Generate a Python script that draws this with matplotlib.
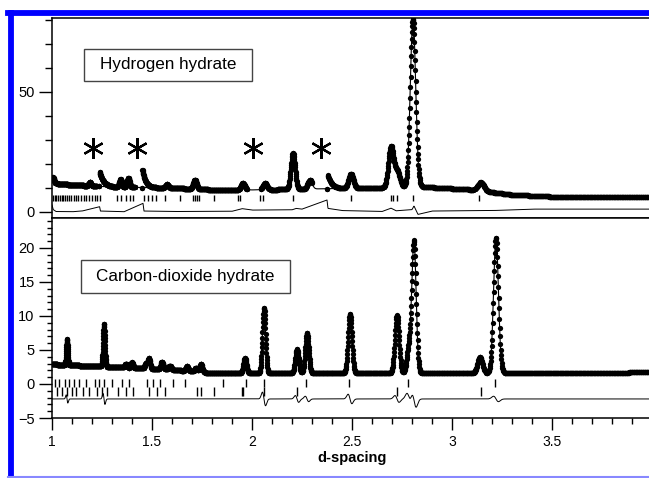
import numpy as np
import matplotlib
matplotlib.use("Agg")
import matplotlib.pyplot as plt
from matplotlib.ticker import MultipleLocator
from matplotlib.lines import Line2D
from matplotlib.patches import Rectangle

plt.rcParams['font.family'] = ['Liberation Sans', 'DejaVu Sans']

# ---- hydrogen hydrate (upper panel) ----
h2_bg_d = [1.0, 1.03, 1.1, 1.3, 1.6, 1.8, 2.0, 2.3, 2.6, 2.85, 3.1, 3.3, 3.5, 4.0]
h2_bg_y = [12.5, 11.8, 11.3, 10.4, 10.0, 9.3, 9.2, 9.6, 10.0, 10.5, 9.3, 7.2, 6.4, 6.2]
h2_peak_d = [1.005, 1.19, 1.343, 1.382, 1.575, 1.715, 1.955, 2.065, 2.205, 2.29,
             2.495, 2.695, 2.727, 2.805, 3.145]
h2_peak_h = [2.0, 1.5, 3.2, 3.8, 1.5, 3.8, 2.8, 2.7, 15.0, 3.7,
             6.0, 17.0, 6.5, 70.0, 3.5]
# artefact edges marked with asterisks (position, jump, decay length)
h2_edge_d = [1.238, 1.452, 2.378]
h2_edge_h = [6.0, 7.5, 6.0]
h2_edge_w = [0.02, 0.016, 0.02]
h2_excluded = [(1.225, 1.236), (1.415, 1.450), (1.975, 2.045), (2.300, 2.376)]
h2_diff_d = [1.0, 1.006, 1.02, 1.1, 1.15, 1.238, 1.242, 1.3, 1.36, 1.455, 1.46, 1.6,
             1.9, 1.95, 2.0, 2.2, 2.22, 2.25, 2.375, 2.38, 2.45, 2.65, 2.695, 2.72,
             2.8, 2.81, 2.83, 2.9, 3.2, 3.4, 4.0]
h2_diff_y = [2.9, 1.0, 0.2, 0.1, 0.4, 2.2, 0.4, 0.3, 0.1, 3.6, 0.4, 0.2,
             0.3, 1.4, 0.8, 0.9, 1.5, 1.2, 5.0, 1.5, 0.6, 0.2, 1.6, 0.5,
             1.0, 2.5, -1.0, 0.4, 0.6, 1.2, 1.2]
h2_ticks = [1.005, 1.015, 1.022, 1.03, 1.04, 1.048, 1.055, 1.065, 1.075, 1.085, 1.095,
            1.11, 1.12, 1.13, 1.145, 1.16, 1.17, 1.185, 1.2, 1.215, 1.225, 1.238,
            1.325, 1.345, 1.37, 1.39, 1.405, 1.46, 1.48, 1.5, 1.52, 1.565, 1.64,
            1.705, 1.715, 1.727, 1.737, 1.81, 1.93, 1.94, 2.04, 2.053, 2.203,
            2.493, 2.693, 2.707, 2.723, 2.803, 3.137]
h2_stars = [1.205, 1.425, 2.005, 2.345]

# ---- carbon-dioxide hydrate (lower panel) ----
co2_bg_d = [1.0, 1.3, 1.6, 1.8, 3.0, 4.0]
co2_bg_y = [2.9, 2.5, 2.1, 1.6, 1.6, 1.7]
co2_peak_d = [1.075, 1.26, 1.37, 1.40, 1.47, 1.485, 1.55, 1.59, 1.675, 1.72, 1.745,
              1.965, 2.06, 2.225, 2.275, 2.49, 2.725, 2.785, 2.81, 3.14, 3.22]
co2_peak_h = [3.8, 6.3, 0.6, 0.8, 0.8, 1.5, 1.1, 0.6, 0.7, 0.6, 1.2,
              2.2, 9.6, 3.5, 5.9, 8.7, 8.5, 3.7, 19.3, 2.4, 19.9]
co2_diff_base = -2.2
co2_blip_d = [1.075, 1.26, 2.06, 2.225, 2.275, 2.49, 2.725, 2.785, 2.81, 3.22]
co2_blip_h = [0.6, 0.8, 1.0, 0.5, 0.4, 0.7, 0.5, 0.8, 1.2, 0.4]
co2_ticks_a = [1.015, 1.037, 1.065, 1.087, 1.11, 1.137, 1.17, 1.215, 1.237, 1.26,
               1.298, 1.348, 1.387, 1.473, 1.507, 1.54, 1.607, 1.665, 1.855, 1.97,
               2.06, 2.27, 2.485, 2.78, 3.215]
co2_ticks_b = [1.027, 1.048, 1.077, 1.098, 1.12, 1.157, 1.187, 1.223, 1.248, 1.277,
               1.332, 1.37, 1.407, 1.487, 1.523, 1.565, 1.725, 1.745, 1.81, 1.95,
               1.955, 2.06, 2.225, 2.725, 3.145]

d = np.exp(np.arange(np.log(1.0), np.log(4.0), 0.0005))


def peaks(pos, hgt, width):
    y = np.zeros_like(d)
    for p, h in zip(pos, hgt):
        y += h * np.exp(-0.5 * ((d - p) / (width * p)) ** 2)
    return y


h2_calc = np.interp(d, h2_bg_d, h2_bg_y) + peaks(h2_peak_d, h2_peak_h, 0.0048)
h2_obs = h2_calc.copy()
for p, h, w in zip(h2_edge_d, h2_edge_h, h2_edge_w):
    m = d >= p
    h2_obs[m] += h * np.exp(-(d[m] - p) / w)
keep = np.ones_like(d, dtype=bool)
for a, b in h2_excluded:
    keep &= ~((d > a) & (d < b))
h2_diff = np.interp(d, h2_diff_d, h2_diff_y)

co2_calc = np.interp(d, co2_bg_d, co2_bg_y) + peaks(co2_peak_d, co2_peak_h, 0.0038)
co2_obs = co2_calc
co2_diff = np.full_like(d, co2_diff_base)
for p, h in zip(co2_blip_d, co2_blip_h):
    s = 0.0038 * p
    co2_diff += -h * 1.65 * (d - p) / s * np.exp(-0.5 * ((d - p) / s) ** 2)

fig = plt.figure(figsize=(6.49, 4.78), dpi=100)
W, H = 649.0, 478.0
ax1 = fig.add_axes([52 / W, 1 - 218 / H, 600 / W, 200 / H])
ax2 = fig.add_axes([52 / W, 1 - 418 / H, 600 / W, 200 / H], sharex=ax1)

# upper panel
ax1.plot(d[keep], h2_obs[keep], 'o', color='black', ms=3.8, mew=0)
ax1.plot(d, h2_calc, color='black', lw=0.8)
ax1.plot(d, h2_diff, color='black', lw=0.7)
ax1.vlines(h2_ticks, 4.6, 7.1, color='black', lw=1.0)
ax1.plot(h2_stars, [26.7] * len(h2_stars), marker=(6, 2, 0), ls='none',
         color='black', ms=15, mew=1.6)
ax1.set_ylim(-2.5, 80.8)
ax1.yaxis.set_major_locator(MultipleLocator(50))
ax1.yaxis.set_minor_locator(MultipleLocator(10))
ax1.tick_params(axis='x', which='both', bottom=False, labelbottom=False)

# lower panel
ax2.plot(d, co2_obs, 'o', color='black', ms=3.8, mew=0)
ax2.plot(d, co2_calc, color='black', lw=0.8)
ax2.plot(d, co2_diff, color='black', lw=0.7)
ax2.vlines(co2_ticks_a, -0.5, 0.8, color='black', lw=1.0)
ax2.vlines(co2_ticks_b, -1.7, -0.4, color='black', lw=1.0)
ax2.set_ylim(-5, 24.4)
ax2.yaxis.set_major_locator(MultipleLocator(5))
ax2.yaxis.set_minor_locator(MultipleLocator(1))
ax2.set_xlim(1, 4)
ax2.xaxis.set_major_locator(MultipleLocator(0.5))
ax2.xaxis.set_minor_locator(MultipleLocator(0.1))
ax2.xaxis.set_major_formatter(lambda v, pos: '%g' % v)
ax2.set_xlabel('d-spacing', fontsize=10.5, fontweight='bold', labelpad=1)
ax2.tick_params(axis='x', which='major', length=8.5, width=1.0, pad=4, labelsize=10)
ax2.tick_params(axis='x', which='minor', length=4.5, width=1.0)

# sample labels in boxes (box corners in pixels from top-left)
for (x0, y0, x1, y1), label in [((84, 49, 252, 81), 'Hydrogen hydrate'),
                                ((81, 260, 290, 293), 'Carbon-dioxide hydrate')]:
    fig.add_artist(Rectangle((x0 / W, 1 - y1 / H), (x1 - x0) / W, (y1 - y0) / H,
                             transform=fig.transFigure, fc='white', ec='#444444',
                             lw=1.0))
    fig.text((x0 + x1) / 2 / W, 1 - (y0 + y1) / 2 / H, label, fontsize=12.3,
             ha='center', va='center')

for ax in (ax1, ax2):
    ax.tick_params(axis='y', which='major', direction='out', length=9.5, width=1.0,
                   pad=3, labelsize=10.5)
    ax.tick_params(axis='y', which='minor', direction='out', length=5, width=1.0)
    ax.spines['right'].set_visible(False)
    for s in ('left', 'top', 'bottom'):
        ax.spines[s].set_linewidth(1.1)
ax2.tick_params(axis='y', which='minor', length=3.5)

# blue frame around the figure
fig.add_artist(Line2D([10.5 / W, 10.5 / W], [0, 1 - 13 / H], color='#0000ff', lw=4.2,
                      transform=fig.transFigure))
fig.add_artist(Line2D([8 / W, 1], [1 - 13 / H, 1 - 13 / H], color='#0000ff', lw=4.2,
                      transform=fig.transFigure))
fig.add_artist(Line2D([8 / W, 1], [1.5 / H, 1.5 / H], color='#8888ff', lw=1.5,
                      transform=fig.transFigure))

fig.savefig('out.png', dpi=100)
